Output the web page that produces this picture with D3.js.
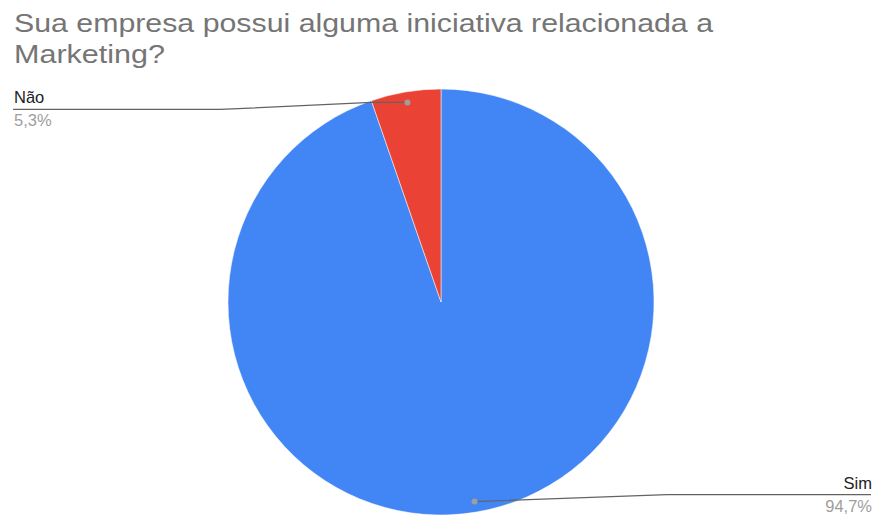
<!DOCTYPE html>
<html>
<head>
<meta charset="utf-8">
<script src="https://cdn.jsdelivr.net/npm/d3@7"></script>
<style>
  html, body { margin: 0; padding: 0; background: #fff; }
  svg { display: block; font-family: "Liberation Sans", Arial, sans-serif; }
</style>
</head>
<body>
<svg id="chart" width="876" height="516"></svg>
<script>
// Survey answers and their shares (%)
const categories = ["Sim", "Não"];
const values = [94.7, 5.3];
const valueLabels = ["94,7%", "5,3%"];
const colors = ["#4285f4", "#ea4335"];
const titleLines = ["Sua empresa possui alguma iniciativa relacionada a", "Marketing?"];

const svg = d3.select("#chart");
const W = 876, H = 516;
const cx = 441, cy = 302, r = 213;

// Title (two lines, wide lettering)
const titleWidths = [699, 151];
svg.append("g").selectAll("text")
  .data(titleLines)
  .join("text")
  .attr("x", 14)
  .attr("y", (d, i) => 32 + i * 31)
  .attr("font-size", 26.5)
  .attr("fill", "#757575")
  .attr("textLength", (d, i) => titleWidths[i])
  .attr("lengthAdjust", "spacingAndGlyphs")
  .text(d => d);

const data = categories.map((c, i) => ({ name: c, value: values[i], label: valueLabels[i], color: colors[i] }));

const pie = d3.pie().sort(null).value(d => d.value);
const arcs = pie(data);
const arc = d3.arc().innerRadius(0).outerRadius(r);
const dotArc = d3.arc().innerRadius(r * 0.95).outerRadius(r * 0.95);

const g = svg.append("g").attr("transform", `translate(${cx},${cy})`);
g.selectAll("path")
  .data(arcs)
  .join("path")
  .attr("d", arc)
  .attr("fill", d => d.data.color)
  .attr("stroke", "#fff")
  .attr("stroke-opacity", 0.5)
  .attr("stroke-width", 1);

// Leader lines and labels
const labelG = svg.append("g");
arcs.forEach(a => {
  const [dx, dy] = dotArc.centroid(a);
  const px = cx + dx, py = cy + dy;
  const mid = (a.startAngle + a.endAngle) / 2;
  const right = Math.sin(mid) > 0;
  let pts, tx, anchor, lineY;
  if (right) {
    lineY = py - 7;
    pts = [[px, py], [667, lineY], [W - 5, lineY]];
    tx = W - 4; anchor = "end";
  } else {
    lineY = py + 7;
    pts = [[px, py], [px - 36, py], [220, lineY], [13, lineY]];
    tx = 14; anchor = "start";
  }
  labelG.append("path")
    .attr("d", d3.line()(pts))
    .attr("fill", "none")
    .attr("stroke", "#636363")
    .attr("stroke-width", 1.2);
  labelG.append("circle")
    .attr("cx", px).attr("cy", py).attr("r", 3)
    .attr("fill", "#9e9e9e");
  labelG.append("text")
    .attr("x", tx).attr("y", lineY - 6)
    .attr("text-anchor", anchor)
    .attr("font-size", 16.5)
    .attr("fill", "#222")
    .text(a.data.name);
  labelG.append("text")
    .attr("x", tx).attr("y", lineY + 17)
    .attr("text-anchor", anchor)
    .attr("font-size", 16.5)
    .attr("fill", "#9e9e9e")
    .text(a.data.label);
});
</script>
</body>
</html>
